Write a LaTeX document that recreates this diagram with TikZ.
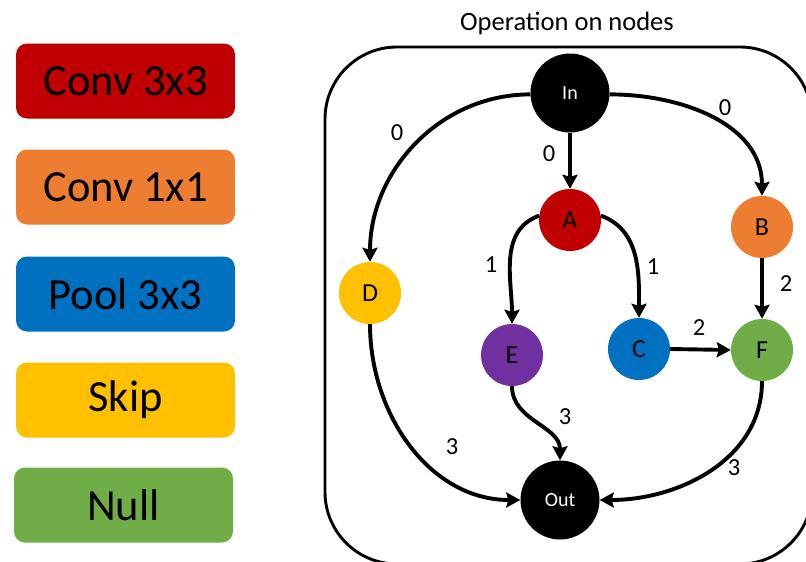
\documentclass[tikz,border=0pt]{standalone}
\usepackage{fontspec}
\setmainfont{Carlito}
\usetikzlibrary{arrows.meta}
\definecolor{cred}{HTML}{C00000}
\definecolor{corange}{HTML}{ED7D31}
\definecolor{cblue}{HTML}{0070C0}
\definecolor{cyellow}{HTML}{FFC000}
\definecolor{cpurple}{HTML}{7030A0}
\definecolor{cgreen}{HTML}{70AD47}
\tikzset{
  legendbox/.style={rounded corners=11pt, minimum width=219pt, minimum height=75pt, inner sep=0pt,
    font=\fontsize{44.5}{44.5}\selectfont, text=black},
  opnode/.style={circle, minimum size=62pt, inner sep=0pt, font=\fontsize{26}{26}\selectfont, text=black},
  ionode/.style={circle, fill=black, minimum size=79pt, inner sep=0pt, font=\fontsize{20}{20}\selectfont, text=white},
  edge/.style={line width=3.9pt, -{Stealth[length=14pt,width=15pt,inset=2pt]}},
  elabel/.style={font=\fontsize{24.5}{24.5}\selectfont, inner sep=0pt},
}
\begin{document}
\begin{tikzpicture}[x=1pt,y=1pt]
\useasboundingbox (0,0) rectangle (806,-562);
\clip (0,0) rectangle (806,-562);
% legend
\node[legendbox, fill=cred]    (L1) at (125.5,-81)  {Conv 3x3};
\node[legendbox, fill=corange] (L2) at (125.5,-187) {Conv 1x1};
\node[legendbox, fill=cblue]   (L3) at (125.5,-294) {Pool 3x3};
\node[legendbox, fill=cyellow] (L4) at (125.5,-400) {Skip};
\node[legendbox, fill=cgreen]  (L5) at (123.5,-505) {Null};
% frame
\draw[line width=2.9pt, rounded corners=72pt] (325,-47) rectangle (812,-564);
\node[font=\fontsize{26.5}{26.5}\selectfont] (title) at (567,-23) {Operation on nodes};
% nodes
\node[ionode] (In) at (570,-93) {In};
\node[opnode, fill=cred]    (A) at (570,-220) {A};
\node[opnode, fill=corange] (B) at (762,-227) {B};
\node[opnode, fill=cyellow] (D) at (370,-293) {D};
\node[opnode, fill=cpurple] (E) at (512,-355) {E};
\node[opnode, fill=cblue]   (C) at (639,-349) {C};
\node[opnode, fill=cgreen]  (F) at (762,-350) {F};
\node[ionode] (Out) at (560,-500) {Out};
% edges
\draw[edge] (In.182) to[out=180,in=90] (D.north);
\draw[edge] (In.south) -- (A.north);
\draw[edge] (In.-2) to[out=0,in=90] (B.north);
\draw[edge] (A.172) to[out=200,in=90] (E.north);
\draw[edge] (A.8) to[out=-20,in=90] (C.north);
\draw[edge] (B.south) -- (F.north);
\draw[edge] (C.east) -- (F.west);
\draw[edge] (D.south) to[out=-90,in=180] (Out.west);
\draw[edge] (E.south) to[out=-90,in=90] (Out.north);
\draw[edge] (F.south) to[out=-90,in=0] (Out.east);
% edge labels
\node[elabel] (l1) at (397,-133) {0};
\node[elabel] (l2) at (549,-154) {0};
\node[elabel] (l3) at (725,-108) {0};
\node[elabel] (l4) at (491,-265) {1};
\node[elabel] (l5) at (653,-267) {1};
\node[elabel] (l6) at (786,-284) {2};
\node[elabel] (l7) at (699,-328) {2};
\node[elabel] (l8) at (452,-447) {3};
\node[elabel] (l9) at (565,-417) {3};
\node[elabel] (l10) at (734,-468) {3};
\end{tikzpicture}
\end{document}
